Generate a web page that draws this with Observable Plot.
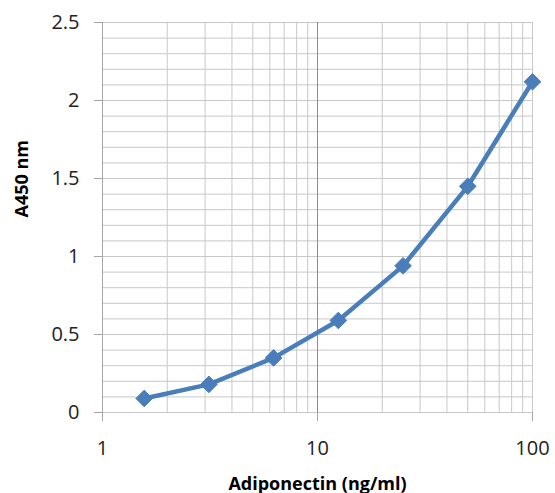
<!DOCTYPE html>
<html>
<head>
<meta charset="utf-8">
<script src="https://cdn.jsdelivr.net/npm/d3@7"></script>
<script src="https://cdn.jsdelivr.net/npm/@observablehq/plot@0.6"></script>
<style>
  body { margin: 0; background: #fff; }
  svg { font-family: "Open Sans", sans-serif; }
</style>
</head>
<body>
<div id="chart"></div>
<script>
const concentration = [1.5625, 3.125, 6.25, 12.5, 25, 50, 100];
const absorbance = [0.09, 0.18, 0.35, 0.59, 0.94, 1.45, 2.12];
const yTicks = [0, 0.5, 1, 1.5, 2, 2.5];
const xTicks = [1, 10, 100];
const yGrid = [0,0.1,0.2,0.3,0.4,0.5,0.6,0.7,0.8,0.9,1,1.1,1.2,1.3,1.4,1.5,1.6,1.7,1.8,1.9,2,2.1,2.2,2.3,2.4,2.5];
const xMinorGrid = [2,3,4,5,6,7,8,9,20,30,40,50,60,70,80,90];
const xLabel = "Adiponectin (ng/ml)";
const yLabel = "A450 nm";

const data = concentration.map((c, i) => ({c, a: absorbance[i]}));
const color = "#4a7ebb";
const gridColor = "#c8c8c8";

const chart = Plot.plot({
  width: 555,
  height: 493,
  marginLeft: 102,
  marginRight: 23,
  marginTop: 22,
  marginBottom: 81,
  x: {type: "log", domain: [1, 100]},
  y: {domain: [0, 2.5]},
  marks: [
    Plot.ruleY(yGrid, {stroke: gridColor, strokeWidth: 1}),
    Plot.ruleX(xMinorGrid, {stroke: gridColor, strokeWidth: 1}),
    Plot.ruleX([100], {stroke: gridColor, strokeWidth: 1}),
    Plot.ruleX([1], {stroke: "#a6a6a6", strokeWidth: 1}),
    Plot.ruleX([10], {stroke: "#8c8c8c", strokeWidth: 1}),
    Plot.axisY({ticks: yTicks, tickFormat: d => String(d), tickSize: 8, tickPadding: 15,
      stroke: "#a6a6a6", fill: "#222", fontSize: 20, label: null}),
    Plot.axisX({ticks: xTicks, tickFormat: d => String(d), tickSize: 9, tickPadding: 19,
      stroke: "#a6a6a6", fill: "#222", fontSize: 20, label: null}),
    Plot.line(data, {x: "c", y: "a", stroke: color, strokeWidth: 4.5, strokeLinejoin: "round"}),
    Plot.dot(data, {x: "c", y: "a", symbol: "diamond2", r: 7.5, fill: color, stroke: color, strokeWidth: 1}),
    Plot.text([yLabel], {frameAnchor: "left", rotate: -90, dx: -80, fontWeight: "bold", fontSize: 18, fill: "#000"}),
    Plot.text([xLabel], {frameAnchor: "bottom", dy: 77, fontWeight: "bold", fontSize: 18, fill: "#000"})
  ]
});
document.getElementById("chart").appendChild(chart);
</script>
</body>
</html>
